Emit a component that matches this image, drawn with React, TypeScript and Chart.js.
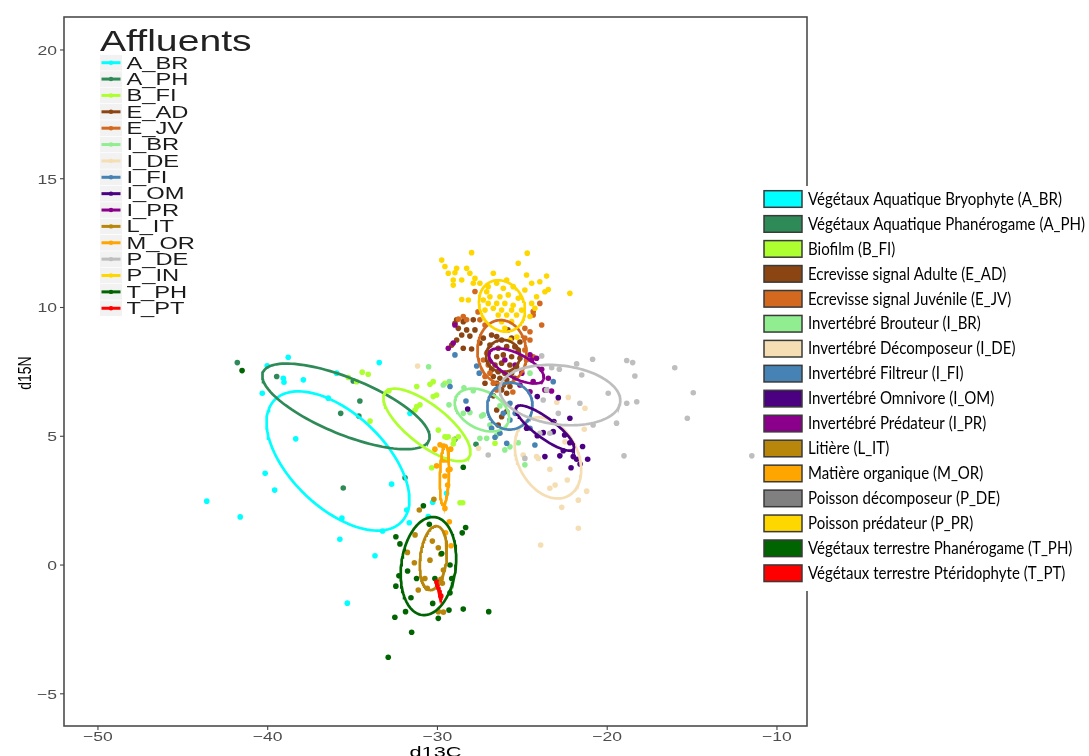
import React, { useEffect, useRef } from 'react';
import { Chart, registerables } from 'chart.js';
Chart.register(...registerables);

// ---------- data (d13C, d15N) ----------
const GROUPS = ['A_BR', 'A_PH', 'B_FI', 'E_AD', 'E_JV', 'I_BR', 'I_DE', 'I_FI', 'I_OM', 'I_PR', 'L_IT', 'M_OR', 'P_DE', 'P_IN', 'T_PH', 'T_PT'];
const GROUP_COLORS = ['#00FFFF', '#2E8B57', '#ADFF2F', '#8B4513', '#D2691E', '#90EE90', '#F5DEB3', '#4682B4', '#4B0082', '#8B008B', '#B8860B', '#FFA500', '#BEBEBE', '#FFD700', '#006400', '#FF0000'];

const LEGEND_LABELS = [
  'Végétaux Aquatique Bryophyte (A_BR)',
  'Végétaux Aquatique Phanérogame (A_PH)',
  'Biofilm (B_FI)',
  'Ecrevisse signal Adulte (E_AD)',
  'Ecrevisse signal Juvénile (E_JV)',
  'Invertébré Brouteur (I_BR)',
  'Invertébré Décomposeur (I_DE)',
  'Invertébré Filtreur (I_FI)',
  'Invertébré Omnivore (I_OM)',
  'Invertébré Prédateur (I_PR)',
  'Litière (L_IT)',
  'Matière organique (M_OR)',
  'Poisson décomposeur (P_DE)',
  'Poisson prédateur (P_PR)',
  'Végétaux terrestre Phanérogame (T_PH)',
  'Végétaux terrestre Ptéridophyte (T_PT)',
];
const LEGEND_COLORS = ['#00FFFF', '#2E8B57', '#ADFF2F', '#8B4513', '#D2691E', '#90EE90', '#F5DEB3', '#4682B4', '#4B0082', '#8B008B', '#B8860B', '#FFA500', '#808080', '#FFD700', '#006400', '#FF0000'];

const X_TICKS = [-50, -40, -30, -20, -10];
const Y_TICKS = [-5, 0, 5, 10, 15, 20];
const X_MIN = -52.0, X_MAX = -8.23, Y_MIN = -6.25, Y_MAX = 21.28;

const pts_A_BR = [[-38.79, 8.07], [-40.03, 7.74], [-39.08, 7.25], [-39.04, 7.10], [-37.90, 7.19], [-40.32, 6.67], [-36.43, 6.48], [-33.43, 7.86], [-35.94, 7.45], [-38.35, 4.90], [-40.15, 3.56], [-39.59, 2.91], [-43.59, 2.48], [-41.62, 1.87], [-31.62, 5.89], [-32.70, 3.14], [-35.63, 1.82], [-35.75, 1.00], [-33.23, 1.32], [-33.68, 0.36], [-35.31, -1.48], [-31.66, 1.64], [-30.54, 1.88], [-30.28, 2.44], [-29.46, 2.79], [-31.81, 2.14]];
const pts_A_PH = [[-41.79, 7.86], [-39.47, 7.32], [-34.57, 6.37], [-35.70, 5.89], [-34.63, 5.79], [-35.55, 2.99], [-34.96, 7.15], [-31.91, 3.39], [-28.97, 4.88], [-27.73, 4.69]];
const pts_B_FI = [[-34.43, 7.49], [-34.08, 7.41], [-35.25, 7.28], [-34.76, 7.12], [-32.86, 6.77], [-31.22, 6.15], [-31.03, 6.22], [-31.32, 6.02], [-33.97, 5.59], [-29.95, 5.24], [-29.56, 4.98], [-29.36, 4.98], [-28.77, 4.98], [-29.07, 4.70], [-30.34, 3.78], [-30.25, 7.12], [-30.44, 7.02], [-28.67, 2.42], [-28.51, 2.42], [-31.22, 6.93], [-29.56, 7.06], [-30.05, 6.60], [-30.25, 6.54], [-29.03, 4.86], [-29.46, 4.96], [-26.61, 4.73]];
const pts_E_AD = [[-28.97, 9.39], [-28.77, 9.19], [-28.48, 9.45], [-28.28, 9.13], [-28.57, 8.93], [-28.09, 8.89], [-28.87, 8.74], [-29.16, 8.54], [-28.48, 8.42], [-27.99, 8.39], [-27.89, 9.52], [-27.79, 9.13], [-27.30, 8.81], [-26.81, 8.93], [-26.51, 8.87], [-26.22, 8.74], [-25.63, 8.81], [-26.91, 8.54], [-26.42, 8.42], [-25.92, 8.48], [-25.44, 8.48], [-25.24, 8.35], [-27.01, 8.22], [-26.51, 8.09], [-26.12, 8.16], [-25.63, 8.09], [-25.14, 8.03], [-26.91, 7.90], [-26.61, 7.77], [-26.22, 7.84], [-25.73, 7.77], [-25.34, 7.70], [-26.81, 7.58], [-26.42, 7.51], [-26.03, 7.45], [-25.63, 7.45], [-26.71, 7.32], [-26.32, 7.25], [-25.92, 7.19], [-25.44, 7.25], [-26.51, 7.06], [-26.12, 6.99], [-25.73, 6.93], [-26.22, 6.80], [-25.92, 6.67], [-26.51, 6.02], [-26.42, 5.44], [-26.22, 5.76], [-25.92, 5.96], [-26.71, 6.57], [-27.20, 7.06], [-28.87, 9.52], [-27.50, 8.62], [-25.85, 9.13], [-25.14, 8.66]];
const pts_E_JV = [[-28.48, 9.65], [-28.28, 9.52], [-27.79, 10.62], [-27.50, 9.52], [-27.20, 9.32], [-24.85, 9.19], [-24.55, 9.06], [-24.85, 8.81], [-24.36, 9.84], [-23.97, 10.16], [-23.86, 9.32], [-24.55, 8.74], [-27.10, 8.22], [-27.01, 7.77], [-26.91, 7.45], [-27.30, 7.96], [-27.20, 7.32], [-26.71, 7.06], [-24.85, 8.35], [-24.75, 7.96], [-24.36, 8.09], [-26.51, 6.80], [-24.36, 9.71], [-28.77, 9.55], [-27.61, 9.83], [-25.56, 6.72]];
const pts_I_BR = [[-30.52, 7.70], [-29.66, 6.99], [-29.30, 7.12], [-27.89, 6.77], [-28.48, 5.89], [-27.30, 5.83], [-26.91, 5.44], [-27.10, 4.92], [-27.50, 4.92], [-25.24, 4.75], [-24.85, 3.89], [-26.03, 4.47], [-26.32, 6.18], [-24.55, 7.45], [-28.09, 5.92], [-27.40, 5.79], [-29.32, 6.22], [-26.51, 5.05], [-28.44, 6.88], [-25.73, 4.59]];
const pts_I_DE = [[-22.29, 6.51], [-22.97, 6.32], [-21.31, 6.09], [-21.35, 5.27], [-22.49, 4.79], [-24.16, 4.21], [-24.06, 4.14], [-24.95, 4.27], [-23.38, 3.72], [-22.35, 3.30], [-23.07, 3.11], [-23.38, 2.98], [-21.21, 2.87], [-21.70, 2.52], [-22.68, 2.24], [-21.70, 1.43], [-23.92, 0.78], [-27.58, 4.53], [-31.17, 7.73]];
const pts_I_FI = [[-28.97, 8.16], [-27.69, 7.73], [-27.54, 7.45], [-29.26, 6.93], [-26.12, 5.89], [-25.73, 5.63], [-25.73, 6.28], [-26.81, 5.31], [-26.32, 5.12], [-25.92, 4.73], [-24.26, 4.66], [-23.18, 7.12], [-25.42, 5.89], [-26.61, 4.96], [-24.55, 5.31], [-28.32, 6.37]];
const pts_I_OM = [[-28.22, 6.06], [-24.12, 6.54], [-22.88, 6.50], [-22.20, 5.70], [-23.14, 5.57], [-23.18, 5.18], [-24.12, 5.02], [-22.51, 5.05], [-22.20, 4.75], [-21.45, 4.60], [-22.59, 4.44], [-22.00, 4.21], [-21.80, 4.11], [-21.15, 4.11], [-21.60, 3.92], [-22.13, 3.78], [-23.67, 4.21], [-22.79, 4.24], [-24.75, 5.31], [-23.77, 5.14]];
const pts_I_PR = [[-29.36, 8.42], [-29.07, 8.62], [-28.97, 9.32], [-24.55, 8.16], [-24.16, 8.03], [-23.86, 7.60], [-23.47, 7.25], [-24.36, 7.12], [-24.45, 7.96], [-23.57, 6.80], [-25.03, 7.45], [-24.55, 6.73], [-23.67, 6.80], [-23.28, 6.76], [-26.03, 7.96], [-25.14, 6.99], [-25.42, 7.77]];
const pts_L_IT = [[-31.07, 2.14], [-30.21, 2.55], [-31.32, 1.17], [-30.30, 0.93], [-29.95, 0.67], [-31.77, 0.49], [-31.36, 0.09], [-29.80, 0.42], [-29.65, -0.19], [-30.74, -0.52], [-31.13, -0.97], [-30.60, -0.90], [-29.80, -0.55], [-29.95, -1.81], [-29.71, -0.71], [-29.65, -1.83], [-30.44, 0.19]];
const pts_M_OR = [[-30.15, 4.50], [-29.66, 4.62], [-29.22, 4.50], [-30.05, 3.85], [-29.26, 3.72], [-29.56, 3.46], [-29.40, 3.11], [-29.56, 2.20], [-29.30, 1.68], [-29.52, 1.25], [-29.20, 0.75], [-29.46, 4.08], [-29.85, 4.67], [-29.66, 4.08], [-29.36, 3.69]];
const pts_P_DE = [[-23.86, 8.12], [-23.27, 7.66], [-22.82, 7.60], [-21.80, 7.81], [-20.86, 7.99], [-18.85, 7.94], [-18.50, 7.86], [-18.37, 7.34], [-21.50, 7.38], [-23.57, 6.80], [-23.77, 6.41], [-22.88, 5.89], [-21.61, 6.28], [-19.94, 6.67], [-18.85, 6.28], [-18.26, 6.34], [-16.02, 7.66], [-14.93, 6.69], [-15.28, 5.70], [-19.45, 5.51], [-20.83, 5.44], [-23.38, 5.12], [-27.01, 4.27], [-24.85, 4.14], [-19.01, 4.24], [-23.97, 5.12], [-11.48, 4.24]];
const pts_P_IN = [[-29.75, 11.84], [-27.99, 12.13], [-24.71, 12.11], [-29.56, 11.59], [-28.87, 11.52], [-28.28, 11.52], [-26.71, 11.33], [-25.24, 11.72], [-24.75, 11.26], [-23.57, 11.22], [-29.36, 11.33], [-28.97, 11.35], [-28.09, 11.33], [-29.07, 11.07], [-28.57, 11.07], [-27.79, 11.13], [-27.89, 10.94], [-27.50, 10.94], [-26.51, 10.94], [-25.92, 11.07], [-24.45, 10.94], [-23.97, 11.00], [-29.07, 10.87], [-27.01, 10.81], [-26.12, 10.75], [-25.54, 10.81], [-24.85, 10.68], [-23.47, 10.70], [-23.67, 10.61], [-24.16, 10.42], [-22.20, 10.55], [-28.57, 10.31], [-28.18, 10.29], [-27.30, 10.29], [-26.91, 10.42], [-26.32, 10.42], [-25.83, 10.49], [-25.24, 10.36], [-24.45, 10.16], [-27.01, 10.16], [-26.51, 10.16], [-26.03, 10.16], [-25.54, 10.09], [-26.71, 9.97], [-26.22, 9.90], [-25.63, 9.90], [-25.04, 9.90], [-26.42, 9.71], [-25.92, 9.71], [-25.34, 9.71], [-26.22, 9.45], [-25.63, 9.45], [-26.03, 9.19], [-24.55, 9.65], [-24.26, 9.97], [-27.10, 10.61], [-27.20, 9.90], [-25.73, 8.74], [-25.32, 8.85]];
const pts_T_PH = [[-32.45, 1.10], [-32.21, 0.82], [-28.34, 1.46], [-28.54, 1.25], [-28.48, 3.80], [-31.76, -0.23], [-32.27, -0.42], [-32.45, -0.82], [-31.23, -0.52], [-31.56, -1.27], [-30.28, -1.49], [-29.32, -1.75], [-28.48, -1.71], [-26.98, -1.81], [-32.51, -2.03], [-31.88, -1.81], [-29.95, -2.07], [-31.52, -2.61], [-32.90, -3.58], [-29.26, -1.08], [-29.16, -0.52], [-29.75, 0.45], [-29.26, 0.00], [-30.15, -0.52], [-30.48, 1.58], [-30.83, 2.30], [-41.51, 7.55]];
const pts_T_PT = [[-30.03, -0.66], [-29.80, -1.20]];

const GROUP_POINTS = [pts_A_BR, pts_A_PH, pts_B_FI, pts_E_AD, pts_E_JV, pts_I_BR, pts_I_DE, pts_I_FI, pts_I_OM, pts_I_PR, pts_L_IT, pts_M_OR, pts_P_DE, pts_P_IN, pts_T_PH, pts_T_PT];

// ellipse parameters: centre, major half-axis vector, minor half-axis vector (data units)
const ELL_CX = [-35.86, -35.39, -30.62, -26.14, -26.20, -27.38, -23.49, -25.73, -23.67, -25.35, -30.24, -29.59, -22.78, -26.20, -30.53, -29.93];
const ELL_CY = [4.04, 6.16, 5.44, 8.12, 8.27, 6.02, 4.16, 6.17, 5.32, 7.73, 0.27, 3.50, 6.60, 10.06, -0.04, -0.93];
const ELL_UX = [3.75, 4.89, 2.46, 1.0, 0.12, 1.53, 1.18, 1.30, 1.68, 1.59, 0.21, 0.06, 3.54, 0.38, 0.38, 0.16];
const ELL_UY = [-2.36, -1.32, -1.27, 0, -1.24, -0.505, -1.48, -0.19, -0.82, -0.54, 1.24, 1.165, -0.31, -0.99, 1.90, -0.29];
const ELL_VX = [-1.91, -0.62, -0.72, 0, 1.44, -0.47, -1.56, -0.30, -0.35, -0.32, 0.77, 0.265, -0.30, 1.30, 1.59, 0.03];
const ELL_VY = [-1.32, -1.01, -0.61, -0.62, 0.04, -0.66, -0.54, -0.89, -0.31, -0.415, -0.06, 0, -1.13, 0.12, -0.14, 0.015];

function ellipseOutline(i: number) {
  const out: { x: number; y: number }[] = [];
  const n = 120;
  for (let k = 0; k <= n; k++) {
    const t = (k / n) * Math.PI * 2;
    out.push({
      x: ELL_CX[i] + ELL_UX[i] * Math.cos(t) + ELL_VX[i] * Math.sin(t),
      y: ELL_CY[i] + ELL_UY[i] * Math.cos(t) + ELL_VY[i] * Math.sin(t),
    });
  }
  return out;
}

const SANS = '"Liberation Sans", Arial, sans-serif';

function stretchText(ctx: CanvasRenderingContext2D, text: string, x: number, y: number, font: string, sx: number, align: string, color: string) {
  ctx.save();
  ctx.font = font;
  ctx.fillStyle = color;
  ctx.textBaseline = 'alphabetic';
  ctx.textAlign = 'left';
  const w = ctx.measureText(text).width * sx;
  const left = align === 'center' ? x - w / 2 : align === 'right' ? x - w : x;
  ctx.translate(left, y);
  ctx.scale(sx, 1);
  ctx.fillText(text, 0, 0);
  ctx.restore();
}

const decorPlugin = {
  id: 'decor',
  afterDatasetsDraw(chart: any) {
    const ctx: CanvasRenderingContext2D = chart.ctx;
    const { left, right, top, bottom } = chart.chartArea;
    const xs = chart.scales.x;
    const ys = chart.scales.y;

    // panel border
    ctx.save();
    ctx.strokeStyle = '#4d4d4d';
    ctx.lineWidth = 1.6;
    ctx.strokeRect(left, top, right - left, bottom - top);
    // ticks
    ctx.strokeStyle = '#444';
    ctx.lineWidth = 1.1;
    X_TICKS.forEach((v) => {
      const px = xs.getPixelForValue(v);
      ctx.beginPath();
      ctx.moveTo(px, bottom);
      ctx.lineTo(px, bottom + 4);
      ctx.stroke();
    });
    Y_TICKS.forEach((v) => {
      const py = ys.getPixelForValue(v);
      ctx.beginPath();
      ctx.moveTo(left, py);
      ctx.lineTo(left - 4, py);
      ctx.stroke();
    });
    ctx.restore();

    const tickFont = '13px ' + SANS;
    X_TICKS.forEach((v) => {
      const px = xs.getPixelForValue(v);
      stretchText(ctx, String(v).replace('-', '\u2212'), px, 741, tickFont, 1.35, 'center', '#4D4D4D');
    });
    Y_TICKS.forEach((v) => {
      const py = ys.getPixelForValue(v);
      stretchText(ctx, String(v).replace('-', '\u2212'), 57, py + 4.8, tickFont, 1.35, 'right', '#4D4D4D');
    });

    // axis titles
    stretchText(ctx, 'd13C', (left + right) / 2, 757, '15px ' + SANS, 1.45, 'center', '#000');
    ctx.save();
    ctx.translate(31, 373);
    ctx.rotate(-Math.PI / 2);
    ctx.scale(1, 1.3);
    ctx.font = '14px ' + SANS;
    ctx.fillStyle = '#000';
    ctx.textAlign = 'center';
    ctx.textBaseline = 'alphabetic';
    ctx.fillText('d15N', 0, 0);
    ctx.restore();

    // inner legend "Affluents"
    stretchText(ctx, 'Affluents', 100, 51, '29px ' + SANS, 1.35, 'left', '#222');
    GROUPS.forEach((g, i) => {
      const cy = 62.7 + 16.37 * i;
      ctx.save();
      ctx.fillStyle = '#F2F2F2';
      ctx.fillRect(100, cy - 7.8, 22, 15.6);
      ctx.strokeStyle = GROUP_COLORS[i];
      ctx.lineWidth = 3;
      ctx.beginPath();
      ctx.moveTo(101.5, cy);
      ctx.lineTo(120.5, cy);
      ctx.stroke();
      ctx.fillStyle = GROUP_COLORS[i];
      ctx.beginPath();
      ctx.arc(111, cy, 2.2, 0, Math.PI * 2);
      ctx.fill();
      ctx.restore();
      stretchText(ctx, g, 126.5, cy + 5.8, '16px ' + SANS, 1.48, 'left', '#1a1a1a');
    });

    // right legend
    ctx.save();
    ctx.fillStyle = '#FFFFFF';
    ctx.fillRect(757, 186, 1089 - 757, 405);
    ctx.restore();
    const lf = '16.5px Lato, "Open Sans", sans-serif';
    ctx.save();
    ctx.font = lf;
    let maxW = 0;
    LEGEND_LABELS.forEach((t) => { maxW = Math.max(maxW, ctx.measureText(t).width); });
    ctx.restore();
    const lsx = 277 / maxW;
    LEGEND_LABELS.forEach((t, i) => {
      const by = 190.7 + 24.95 * i;
      ctx.save();
      ctx.fillStyle = LEGEND_COLORS[i];
      ctx.fillRect(764, by, 38, 16.6);
      ctx.strokeStyle = '#3a3a3a';
      ctx.lineWidth = 1.5;
      ctx.strokeRect(764, by, 38, 16.6);
      ctx.restore();
      stretchText(ctx, t, 808, by + 14, lf, lsx, 'left', '#000');
    });
  },
};

export default function App() {
  const ref = useRef<HTMLCanvasElement | null>(null);
  useEffect(() => {
    if (!ref.current) return;
    const pointSets = GROUPS.map((g, i) => ({
      type: 'scatter' as const,
      label: g,
      data: GROUP_POINTS[i].map((p) => ({ x: p[0], y: p[1] })),
      backgroundColor: GROUP_COLORS[i],
      borderWidth: 0,
      pointRadius: 2.8,
      pointHoverRadius: 2.8,
      showLine: false,
      order: 100 - i,
    }));
    const ellipseSets = GROUPS.map((g, i) => ({
      type: 'scatter' as const,
      label: g + ' ellipse',
      data: ellipseOutline(i),
      borderColor: GROUP_COLORS[i],
      backgroundColor: GROUP_COLORS[i],
      borderWidth: 2.7,
      pointRadius: 0,
      showLine: true,
      fill: false,
      tension: 0,
      order: 50 - i,
    }));
    const chart = new Chart(ref.current, {
      type: 'scatter',
      data: { datasets: [...pointSets, ...ellipseSets] as any },
      options: {
        animation: false,
        responsive: true,
        maintainAspectRatio: false,
        layout: { padding: { left: 64, right: 282, top: 17, bottom: 30 } },
        plugins: { legend: { display: false }, tooltip: { enabled: false } },
        scales: {
          x: { type: 'linear', min: X_MIN, max: X_MAX, bounds: 'data', display: false },
          y: { type: 'linear', min: Y_MIN, max: Y_MAX, bounds: 'data', display: false },
        },
      },
      plugins: [decorPlugin],
    });
    return () => chart.destroy();
  }, []);
  return (
    <div style={{ position: 'absolute', left: 0, top: 0, width: 1089, height: 756, background: '#fff' }}>
      <canvas ref={ref} />
    </div>
  );
}
